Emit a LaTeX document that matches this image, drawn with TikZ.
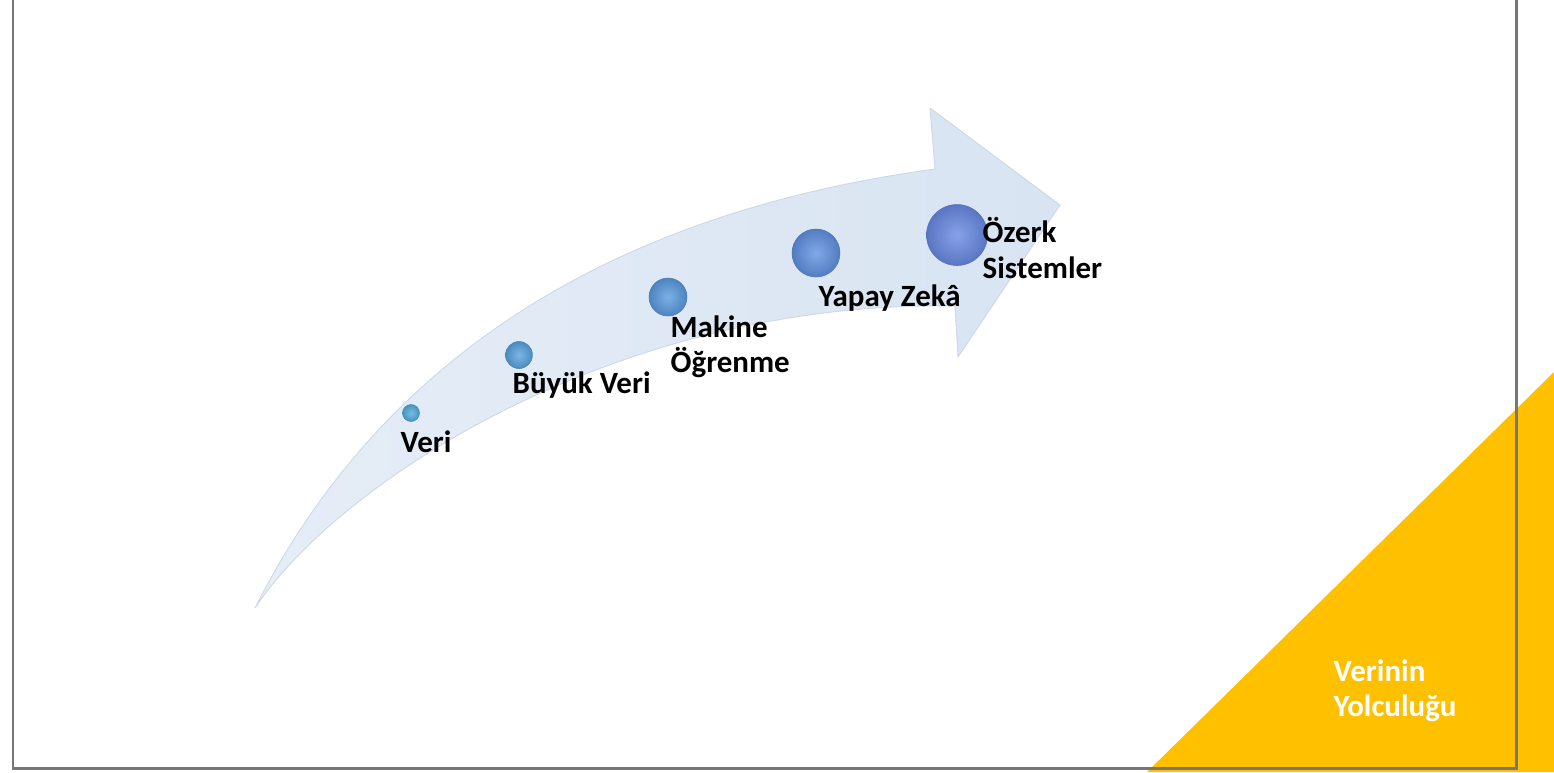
\documentclass[tikz,border=0pt]{standalone}
\usepackage{fontspec}
\setmainfont{Carlito}
\begin{document}
\begin{tikzpicture}[x=0.1mm,y=-0.1mm,
  lbl/.style={font=\fontsize{8.8}{10.1}\selectfont\bfseries, anchor=west, inner sep=0pt, align=left, text=black},
  ball/.style={circle, inner sep=0pt, shading=radial, inner color=#1!80!white, outer color=#1!85!black, draw=#1!80!black, line width=0.15pt},
]
\definecolor{gold}{HTML}{FFC000}
\definecolor{framegray}{HTML}{767676}
\definecolor{bandA}{HTML}{E6EDF7}
\definecolor{bandB}{HTML}{D8E4F2}
\definecolor{bandedge}{HTML}{CDD8E6}
\definecolor{bA}{HTML}{55AEDD}
\definecolor{bB}{HTML}{58A4DF}
\definecolor{bC}{HTML}{5B9CE1}
\definecolor{bD}{HTML}{6193E3}
\definecolor{bE}{HTML}{6A8BE5}

\useasboundingbox (0,0) rectangle (1554,772);
\fill[white] (0,0) rectangle (1554,772);

% corner triangle
\fill[gold] (1147,772) -- (1554,372) -- (1554,772) -- cycle;

% slide frame
\draw[framegray, line width=0.85pt] (13,-20) -- (13,768) -- (1516,768) -- (1516,-20);

% curved arrow
\shade[left color=bandA, right color=bandB, draw=bandedge, line width=0.25pt, line join=miter]
  (255,608) .. controls (360,400) and (560,220) .. (935,169)
  -- (930,108) -- (1060,205) -- (958,357) -- (955,306)
  .. controls (620,300) and (340,480) .. (255,608) -- cycle;

% stages
\node[ball=bA, minimum size=1.7mm] (b1) at (411,413) {};
\node[ball=bB, minimum size=2.7mm] (b2) at (519,355) {};
\node[ball=bC, minimum size=3.8mm] (b3) at (668,297) {};
\node[ball=bD, minimum size=4.8mm] (b4) at (816,253) {};
\node[ball=bE, minimum size=6.1mm] (b5) at (957,235) {};

\node[lbl] (t1) at (400,442) {Veri};
\node[lbl] (t2) at (512,385) {Büyük Veri};
\node[lbl] (t3) at (670,347) {Makine\\Öğrenme};
\node[lbl] (t4) at (818,298) {Yapay Zekâ};
\node[lbl] (t5) at (982,248) {Özerk\\Sistemler};

\node[lbl, text=white] (title) at (1333,691) {Verinin\\Yolculuğu};
\end{tikzpicture}
\end{document}
